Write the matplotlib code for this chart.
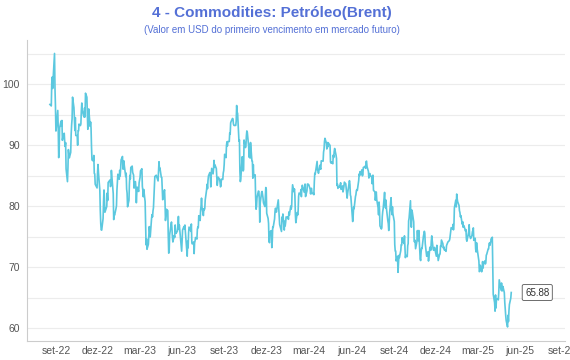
import matplotlib
matplotlib.use("Agg")
import matplotlib.pyplot as plt
import pandas as pd

# Brent (primeiro vencimento), fechamentos diarios
brent_2022 = [
    ("08-19", 96.72), ("08-22", 96.48), ("08-23", 100.22), ("08-24", 101.22), ("08-25", 99.34), ("08-26", 100.99),
    ("08-29", 105.09), ("08-30", 99.31), ("08-31", 96.49),
    ("09-01", 92.36), ("09-02", 93.02), ("09-05", 95.74), ("09-06", 92.83), ("09-07", 88.00), ("09-08", 89.15),
    ("09-09", 92.84), ("09-12", 94.00), ("09-13", 93.17), ("09-14", 94.10), ("09-15", 90.84), ("09-16", 91.35),
    ("09-19", 92.00), ("09-20", 90.62), ("09-21", 89.83), ("09-22", 90.46), ("09-23", 86.15), ("09-26", 84.06),
    ("09-27", 86.27), ("09-28", 89.32), ("09-29", 88.49), ("09-30", 87.96),
    ("10-03", 88.86), ("10-04", 91.80), ("10-05", 93.37), ("10-06", 94.42), ("10-07", 97.92), ("10-10", 96.19),
    ("10-11", 94.29), ("10-12", 92.45), ("10-13", 94.57), ("10-14", 91.63), ("10-17", 91.62), ("10-18", 90.03),
    ("10-19", 92.41), ("10-20", 92.38), ("10-21", 93.50), ("10-24", 93.26), ("10-25", 93.52), ("10-26", 95.69),
    ("10-27", 96.96), ("10-28", 95.77), ("10-31", 94.83),
    ("11-01", 94.65), ("11-02", 96.16), ("11-03", 94.67), ("11-04", 98.57), ("11-07", 97.92), ("11-08", 95.36),
    ("11-09", 92.65), ("11-10", 93.67), ("11-11", 95.99), ("11-14", 93.14), ("11-15", 93.86), ("11-16", 92.86),
    ("11-17", 89.78), ("11-18", 87.62), ("11-21", 87.45), ("11-22", 88.36), ("11-23", 85.41), ("11-24", 85.34),
    ("11-25", 83.63), ("11-28", 83.19), ("11-29", 83.03), ("11-30", 85.43),
    ("12-01", 86.88), ("12-02", 85.57), ("12-05", 82.68), ("12-06", 79.35), ("12-07", 77.17), ("12-08", 76.15),
    ("12-09", 76.10), ("12-12", 77.99), ("12-13", 80.68), ("12-14", 82.70), ("12-15", 81.21), ("12-16", 79.04),
    ("12-19", 79.80), ("12-20", 79.99), ("12-21", 82.20), ("12-22", 80.98), ("12-23", 83.92), ("12-27", 84.33),
    ("12-28", 83.26), ("12-29", 83.46), ("12-30", 85.91),
]

brent_2023 = [
    ("01-03", 82.10), ("01-04", 77.84), ("01-05", 78.69), ("01-06", 78.57), ("01-09", 79.65), ("01-10", 80.10),
    ("01-11", 82.67), ("01-12", 84.03), ("01-13", 85.28), ("01-16", 84.46), ("01-17", 85.92), ("01-18", 84.98),
    ("01-19", 86.16), ("01-20", 87.63), ("01-23", 88.19), ("01-24", 86.13), ("01-25", 86.12), ("01-26", 87.47),
    ("01-27", 86.66), ("01-30", 84.90), ("01-31", 85.46),
    ("02-01", 82.84), ("02-02", 82.17), ("02-03", 79.94), ("02-06", 80.99), ("02-07", 83.69), ("02-08", 85.09),
    ("02-09", 84.50), ("02-10", 86.39), ("02-13", 86.61), ("02-14", 85.58), ("02-15", 85.38), ("02-16", 85.14),
    ("02-17", 83.00), ("02-20", 84.07), ("02-21", 83.05), ("02-22", 80.60), ("02-23", 82.21), ("02-24", 83.16),
    ("02-27", 82.45), ("02-28", 83.89),
    ("03-01", 84.31), ("03-02", 84.75), ("03-03", 85.83), ("03-06", 86.18), ("03-07", 83.29), ("03-08", 82.66),
    ("03-09", 81.59), ("03-10", 82.78), ("03-13", 80.77), ("03-14", 77.45), ("03-15", 73.69), ("03-16", 74.70),
    ("03-17", 72.97), ("03-20", 73.79), ("03-21", 75.32), ("03-22", 76.69), ("03-23", 75.91), ("03-24", 74.99),
    ("03-27", 78.12), ("03-28", 78.65), ("03-29", 78.28), ("03-30", 79.27), ("03-31", 79.77),
    ("04-03", 84.93), ("04-04", 84.94), ("04-05", 84.99), ("04-06", 85.12), ("04-10", 84.18), ("04-11", 85.61),
    ("04-12", 87.33), ("04-13", 86.09), ("04-14", 86.31), ("04-17", 84.76), ("04-18", 84.77), ("04-19", 83.12),
    ("04-20", 81.10), ("04-21", 81.66), ("04-24", 82.73), ("04-25", 80.77), ("04-26", 77.69), ("04-27", 78.37),
    ("04-28", 79.54),
    ("05-01", 79.31), ("05-02", 75.32), ("05-03", 72.33), ("05-04", 72.50), ("05-05", 75.30), ("05-08", 77.01),
    ("05-09", 77.44), ("05-10", 76.41), ("05-11", 74.98), ("05-12", 74.17), ("05-15", 75.23), ("05-16", 74.91),
    ("05-17", 76.96), ("05-18", 75.86), ("05-19", 75.58), ("05-22", 75.99), ("05-23", 76.84), ("05-24", 78.36),
    ("05-25", 76.26), ("05-26", 76.95), ("05-30", 73.54), ("05-31", 72.66),
    ("06-01", 74.28), ("06-02", 76.13), ("06-05", 76.71), ("06-06", 76.29), ("06-07", 76.95), ("06-08", 75.96),
    ("06-09", 74.79), ("06-12", 71.84), ("06-13", 74.29), ("06-14", 73.20), ("06-15", 75.67), ("06-16", 76.61),
    ("06-19", 76.09), ("06-20", 75.90), ("06-21", 77.12), ("06-22", 74.14), ("06-23", 73.85), ("06-26", 74.18),
    ("06-27", 72.26), ("06-28", 74.03), ("06-29", 74.34), ("06-30", 74.90),
    ("07-03", 74.65), ("07-04", 76.25), ("07-05", 76.65), ("07-06", 76.52), ("07-07", 78.47), ("07-10", 77.69),
    ("07-11", 79.40), ("07-12", 80.11), ("07-13", 81.36), ("07-14", 79.87), ("07-17", 78.50), ("07-18", 79.63),
    ("07-19", 79.46), ("07-20", 79.64), ("07-21", 81.07), ("07-24", 82.74), ("07-25", 83.64), ("07-26", 82.92),
    ("07-27", 84.24), ("07-28", 84.99), ("07-31", 85.56),
    ("08-01", 84.91), ("08-02", 83.20), ("08-03", 85.14), ("08-04", 86.24), ("08-07", 85.34), ("08-08", 86.17),
    ("08-09", 87.55), ("08-10", 86.40), ("08-11", 86.81), ("08-14", 86.21), ("08-15", 84.89), ("08-16", 83.45),
    ("08-17", 84.12), ("08-18", 84.80), ("08-21", 84.46), ("08-22", 84.03), ("08-23", 83.21), ("08-24", 83.36),
    ("08-25", 84.48), ("08-28", 84.42), ("08-29", 85.49), ("08-30", 85.86), ("08-31", 86.86),
    ("09-01", 88.55), ("09-04", 88.00), ("09-05", 90.04), ("09-06", 90.60), ("09-07", 89.92), ("09-08", 90.65),
    ("09-11", 90.64), ("09-12", 92.06), ("09-13", 91.88), ("09-14", 93.70), ("09-15", 93.93), ("09-18", 94.43),
    ("09-19", 94.34), ("09-20", 93.53), ("09-21", 93.30), ("09-22", 93.27), ("09-25", 93.29), ("09-26", 93.96),
    ("09-27", 96.55), ("09-28", 95.38), ("09-29", 95.31),
    ("10-02", 90.71), ("10-03", 90.92), ("10-04", 85.81), ("10-05", 84.07), ("10-06", 84.58), ("10-09", 88.15),
    ("10-10", 87.65), ("10-11", 85.82), ("10-12", 86.00), ("10-13", 90.89), ("10-16", 89.65), ("10-17", 89.90),
    ("10-18", 91.50), ("10-19", 92.38), ("10-20", 92.16), ("10-23", 89.83), ("10-24", 88.07), ("10-25", 90.13),
    ("10-26", 87.93), ("10-27", 90.48), ("10-30", 87.45), ("10-31", 87.41),
    ("11-01", 84.63), ("11-02", 86.85), ("11-03", 84.89), ("11-06", 85.18), ("11-07", 81.61), ("11-08", 79.54),
    ("11-09", 80.01), ("11-10", 81.43), ("11-13", 82.52), ("11-14", 82.47), ("11-15", 81.18), ("11-16", 77.42),
    ("11-17", 80.61), ("11-20", 82.32), ("11-21", 82.45), ("11-22", 81.96), ("11-23", 81.42), ("11-24", 80.58),
    ("11-27", 79.98), ("11-28", 81.68), ("11-29", 83.10), ("11-30", 82.83),
    ("12-01", 78.88), ("12-04", 78.03), ("12-05", 77.20), ("12-06", 74.30), ("12-07", 74.05), ("12-08", 75.84),
    ("12-11", 76.03), ("12-12", 73.24), ("12-13", 74.26), ("12-14", 76.61), ("12-15", 76.55), ("12-18", 77.95),
    ("12-19", 79.23), ("12-20", 79.70), ("12-21", 79.39), ("12-22", 79.07), ("12-26", 81.07), ("12-27", 79.65),
    ("12-28", 78.39), ("12-29", 77.04),
]

brent_2024 = [
    ("01-02", 75.89), ("01-03", 78.25), ("01-04", 77.59), ("01-05", 78.76), ("01-08", 76.12), ("01-09", 77.59),
    ("01-10", 76.80), ("01-11", 77.41), ("01-12", 78.29), ("01-15", 78.15), ("01-16", 78.29), ("01-17", 77.88),
    ("01-18", 79.10), ("01-19", 78.56), ("01-22", 80.06), ("01-23", 79.55), ("01-24", 80.04), ("01-25", 82.43),
    ("01-26", 83.55), ("01-29", 82.40), ("01-30", 82.87), ("01-31", 81.71),
    ("02-01", 78.70), ("02-02", 77.33), ("02-05", 78.99), ("02-06", 78.59), ("02-07", 79.21), ("02-08", 81.63),
    ("02-09", 82.19), ("02-12", 82.00), ("02-13", 82.77), ("02-14", 81.60), ("02-15", 82.86), ("02-16", 83.47),
    ("02-20", 82.34), ("02-21", 83.03), ("02-22", 83.67), ("02-23", 81.62), ("02-26", 82.53), ("02-27", 83.65),
    ("02-28", 83.68), ("02-29", 83.62),
    ("03-01", 83.55), ("03-04", 82.80), ("03-05", 82.04), ("03-06", 82.96), ("03-07", 82.96), ("03-08", 82.08),
    ("03-11", 82.21), ("03-12", 81.92), ("03-13", 84.03), ("03-14", 85.42), ("03-15", 85.34), ("03-18", 86.89),
    ("03-19", 87.38), ("03-20", 85.95), ("03-21", 85.78), ("03-22", 85.43), ("03-25", 86.75), ("03-26", 86.25),
    ("03-27", 86.09), ("03-28", 87.48),
    ("04-01", 87.42), ("04-02", 88.92), ("04-03", 89.35), ("04-04", 90.65), ("04-05", 91.17), ("04-08", 90.38),
    ("04-09", 89.42), ("04-10", 90.48), ("04-11", 89.74), ("04-12", 90.45), ("04-15", 90.10), ("04-16", 90.02),
    ("04-17", 87.29), ("04-18", 87.11), ("04-19", 87.29), ("04-22", 87.00), ("04-23", 88.42), ("04-24", 88.02),
    ("04-25", 89.01), ("04-26", 89.50), ("04-29", 88.40), ("04-30", 87.86),
    ("05-01", 83.44), ("05-02", 83.67), ("05-03", 82.96), ("05-06", 83.33), ("05-07", 83.16), ("05-08", 83.58),
    ("05-09", 83.88), ("05-10", 82.79), ("05-13", 83.36), ("05-14", 82.38), ("05-15", 82.75), ("05-16", 83.27),
    ("05-17", 83.98), ("05-20", 83.71), ("05-21", 82.88), ("05-22", 81.90), ("05-23", 81.36), ("05-24", 82.12),
    ("05-28", 84.22), ("05-29", 83.60), ("05-30", 81.86), ("05-31", 81.62),
    ("06-03", 78.36), ("06-04", 77.52), ("06-05", 78.41), ("06-06", 79.87), ("06-07", 79.62), ("06-10", 81.63),
    ("06-11", 81.92), ("06-12", 82.60), ("06-13", 82.75), ("06-14", 82.62), ("06-17", 84.25), ("06-18", 85.33),
    ("06-19", 85.07), ("06-20", 85.71), ("06-21", 85.24), ("06-24", 86.01), ("06-25", 85.01), ("06-26", 85.25),
    ("06-27", 86.39), ("06-28", 86.41),
    ("07-01", 86.60), ("07-02", 86.24), ("07-03", 87.34), ("07-04", 87.43), ("07-05", 86.54), ("07-08", 85.75),
    ("07-09", 84.66), ("07-10", 85.08), ("07-11", 85.40), ("07-12", 85.03), ("07-15", 84.85), ("07-16", 83.73),
    ("07-17", 85.08), ("07-18", 85.11), ("07-19", 82.63), ("07-22", 82.40), ("07-23", 81.01), ("07-24", 81.71),
    ("07-25", 82.37), ("07-26", 81.13), ("07-29", 79.78), ("07-30", 78.63), ("07-31", 80.72),
    ("08-01", 79.52), ("08-02", 76.81), ("08-05", 76.30), ("08-06", 76.48), ("08-07", 78.33), ("08-08", 79.16),
    ("08-09", 79.66), ("08-12", 82.30), ("08-13", 80.69), ("08-14", 79.76), ("08-15", 81.04), ("08-16", 79.68),
    ("08-19", 77.66), ("08-20", 77.20), ("08-21", 76.05), ("08-22", 77.22), ("08-23", 79.02), ("08-26", 81.43),
    ("08-27", 79.55), ("08-28", 78.65), ("08-29", 79.94), ("08-30", 78.80),
    ("09-02", 77.52), ("09-03", 73.75), ("09-04", 72.70), ("09-05", 72.69), ("09-06", 71.06), ("09-09", 71.84),
    ("09-10", 69.19), ("09-11", 70.61), ("09-12", 71.97), ("09-13", 71.61), ("09-16", 72.75), ("09-17", 73.70),
    ("09-18", 73.65), ("09-19", 74.88), ("09-20", 74.49), ("09-23", 73.90), ("09-24", 75.17), ("09-25", 73.46),
    ("09-26", 71.60), ("09-27", 71.98), ("09-30", 71.77),
    ("10-01", 73.56), ("10-02", 73.90), ("10-03", 77.62), ("10-04", 78.05), ("10-07", 80.93), ("10-08", 77.18),
    ("10-09", 76.58), ("10-10", 79.40), ("10-11", 79.04), ("10-14", 77.46), ("10-15", 74.25), ("10-16", 74.22),
    ("10-17", 74.45), ("10-18", 73.06), ("10-21", 74.29), ("10-22", 76.04), ("10-23", 74.96), ("10-24", 74.38),
    ("10-25", 76.05), ("10-28", 71.42), ("10-29", 71.12), ("10-30", 72.55), ("10-31", 73.16),
    ("11-01", 73.10), ("11-04", 75.08), ("11-05", 75.53), ("11-06", 75.92), ("11-07", 75.63), ("11-08", 73.87),
    ("11-11", 71.83), ("11-12", 71.89), ("11-13", 72.28), ("11-14", 72.56), ("11-15", 71.04), ("11-18", 73.30),
    ("11-19", 73.31), ("11-20", 72.81), ("11-21", 74.23), ("11-22", 75.17), ("11-25", 73.01), ("11-26", 72.81),
    ("11-27", 72.83), ("11-28", 73.28), ("11-29", 72.94),
    ("12-02", 71.83), ("12-03", 73.62), ("12-04", 72.31), ("12-05", 72.09), ("12-06", 71.12), ("12-09", 72.14),
    ("12-10", 72.19), ("12-11", 73.52), ("12-12", 73.41), ("12-13", 74.49), ("12-16", 73.91), ("12-17", 73.19),
    ("12-18", 73.39), ("12-19", 72.88), ("12-20", 72.94), ("12-23", 72.63), ("12-24", 73.58), ("12-27", 74.17),
    ("12-30", 74.39), ("12-31", 74.64),
]

brent_2025 = [
    ("01-02", 75.93), ("01-03", 76.51), ("01-06", 76.30), ("01-07", 77.05), ("01-08", 76.16), ("01-09", 76.92),
    ("01-10", 79.76), ("01-13", 81.01), ("01-14", 79.92), ("01-15", 82.03), ("01-16", 81.29), ("01-17", 80.79),
    ("01-20", 80.15), ("01-21", 79.29), ("01-22", 79.00), ("01-23", 78.29), ("01-24", 78.50), ("01-27", 77.08),
    ("01-28", 77.49), ("01-29", 76.58), ("01-30", 76.87), ("01-31", 76.76),
    ("02-03", 75.96), ("02-04", 76.20), ("02-05", 74.61), ("02-06", 74.29), ("02-07", 74.66), ("02-10", 75.87),
    ("02-11", 77.00), ("02-12", 75.18), ("02-13", 75.02), ("02-14", 74.74), ("02-17", 75.22), ("02-18", 75.84),
    ("02-19", 76.04), ("02-20", 76.48), ("02-21", 74.43), ("02-24", 74.78), ("02-25", 73.02), ("02-26", 72.53),
    ("02-27", 74.04), ("02-28", 73.18),
    ("03-03", 71.62), ("03-04", 71.04), ("03-05", 69.30), ("03-06", 69.46), ("03-07", 70.36), ("03-10", 69.28),
    ("03-11", 69.56), ("03-12", 70.95), ("03-13", 69.88), ("03-14", 70.58), ("03-17", 71.07), ("03-18", 70.56),
    ("03-19", 70.78), ("03-20", 72.00), ("03-21", 72.16), ("03-24", 73.00), ("03-25", 73.02), ("03-26", 73.79),
    ("03-27", 74.03), ("03-28", 73.63), ("03-31", 74.74),
    ("04-01", 74.49), ("04-02", 74.95), ("04-03", 70.14), ("04-04", 65.58), ("04-07", 64.21), ("04-08", 62.82),
    ("04-09", 65.48), ("04-10", 63.33), ("04-11", 64.76), ("04-14", 64.88), ("04-15", 64.67), ("04-16", 65.85),
    ("04-17", 67.96), ("04-21", 66.26), ("04-22", 67.44), ("04-23", 66.12), ("04-24", 66.55), ("04-25", 66.87),
    ("04-28", 65.86), ("04-29", 64.25), ("04-30", 63.12),
    ("05-01", 62.13), ("05-02", 61.29), ("05-05", 60.23), ("05-06", 62.15), ("05-07", 61.12), ("05-08", 62.84),
    ("05-09", 63.91), ("05-12", 64.96), ("05-13", 65.88),
]

x_ticks = ["2022-09-01", "2022-12-01", "2023-03-01", "2023-06-01", "2023-09-01", "2023-12-01",
           "2024-03-01", "2024-06-01", "2024-09-01", "2024-12-01", "2025-03-01", "2025-06-01", "2025-09-01"]
x_labels = ["set-22", "dez-22", "mar-23", "jun-23", "set-23", "dez-23",
            "mar-24", "jun-24", "set-24", "dez-24", "mar-25", "jun-25", "set-25"]
y_ticks = [60, 70, 80, 90, 100]

TITLE = "4 - Commodities: Petróleo(Brent)"
SUBTITLE = "(Valor em USD do primeiro vencimento em mercado futuro)"

#--- monta a serie
datas, valores = [], []
for ano, linhas in [(2022, brent_2022), (2023, brent_2023), (2024, brent_2024), (2025, brent_2025)]:
    for md, v in linhas:
        datas.append(f"{ano}-{md}")
        valores.append(v)
serie = pd.Series(valores, index=pd.to_datetime(datas))

plt.rcParams['font.family'] = ['Liberation Sans', 'DejaVu Sans']

fig = plt.figure(figsize=(5.7, 3.6), dpi=100)
ax = fig.add_axes([0.047, 0.054, 0.944, 0.835])

ax.plot(serie.index, serie.values, color="#5bc8df", lw=1.2, solid_joinstyle="round")

ax.set_xlim(pd.Timestamp("2022-06-30"), pd.Timestamp("2025-09-06"))
ax.set_ylim(58.0, 107.3)

ax.set_xticks(pd.to_datetime(x_ticks))
ax.set_xticklabels(x_labels)
ax.set_yticks(y_ticks)
ax.set_yticks([65, 75, 85, 95, 105], minor=True)
ax.tick_params(axis="both", which="both", length=0, labelsize=7.5, colors="#555555")
ax.tick_params(axis="x", pad=4)
ax.tick_params(axis="y", pad=5)

ax.grid(True, axis="y", which="both", color="#ececec", lw=0.8)
ax.set_axisbelow(True)
for s in ["top", "right"]:
    ax.spines[s].set_visible(False)
ax.spines["left"].set_color("#cccccc")
ax.spines["bottom"].set_color("#cccccc")

# rotulo do ultimo valor
ax.annotate(f"{serie.values[-1]:.2f}", xy=(serie.index[-1], serie.values[-1]),
            xytext=(10, 0), textcoords="offset points", ha="left", va="center",
            fontsize=7, color="#333333",
            bbox=dict(boxstyle="round,pad=0.3,rounding_size=0.15", fc="white", ec="#555555", lw=0.6))

fig.text(0.477, 0.965, TITLE, ha="center", va="center", fontsize=11, fontweight="bold", color="#5470d6")
fig.text(0.477, 0.918, SUBTITLE, ha="center", va="center", fontsize=7, color="#5470d6")

fig.savefig("out.png", dpi=100)
